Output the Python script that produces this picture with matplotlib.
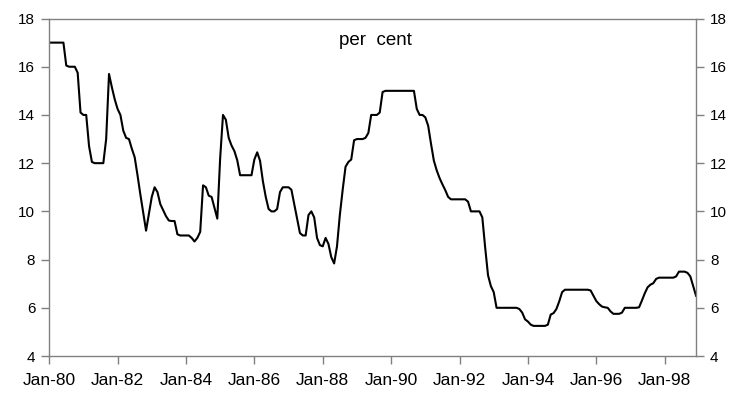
import matplotlib
matplotlib.use("Agg")
import matplotlib.pyplot as plt
import numpy as np

plt.rcParams['font.family'] = ['Liberation Sans', 'DejaVu Sans']

# monthly average rate, per cent, Jan 1980 - Dec 1998
rate = [
    17.0, 17.0, 17.0, 17.0, 17.0, 17.0, 16.05, 16.0, 16.0, 16.0, 15.75, 14.1,      # 1980
    14.0, 14.0, 12.7, 12.05, 12.0, 12.0, 12.0, 12.0, 13.0, 15.7, 15.15, 14.65,     # 1981
    14.25, 14.0, 13.35, 13.05, 13.0, 12.6, 12.25, 11.5, 10.7, 9.95, 9.2, 9.9,      # 1982
    10.6, 11.0, 10.8, 10.3, 10.05, 9.8, 9.62, 9.6, 9.6, 9.05, 9.0, 9.0,            # 1983
    9.0, 9.0, 8.9, 8.75, 8.9, 9.15, 11.08, 11.0, 10.65, 10.6, 10.15, 9.7,          # 1984
    12.2, 14.0, 13.8, 13.05, 12.73, 12.5, 12.12, 11.5, 11.5, 11.5, 11.5, 11.5,     # 1985
    12.15, 12.45, 12.1, 11.25, 10.6, 10.1, 10.0, 10.0, 10.1, 10.8, 11.0, 11.0,     # 1986
    11.0, 10.9, 10.3, 9.7, 9.1, 9.0, 9.0, 9.85, 10.0, 9.75, 8.9, 8.6,              # 1987
    8.55, 8.9, 8.65, 8.1, 7.84, 8.55, 9.85, 10.9, 11.85, 12.05, 12.15, 12.95,      # 1988
    13.0, 13.0, 13.0, 13.05, 13.25, 14.0, 14.0, 14.0, 14.1, 14.95, 15.0, 15.0,     # 1989
    15.0, 15.0, 15.0, 15.0, 15.0, 15.0, 15.0, 15.0, 15.0, 14.25, 14.0, 14.0,       # 1990
    13.9, 13.55, 12.8, 12.1, 11.7, 11.38, 11.12, 10.88, 10.6, 10.5, 10.5, 10.5,    # 1991
    10.5, 10.5, 10.5, 10.4, 10.0, 10.0, 10.0, 10.0, 9.75, 8.5, 7.35, 6.9,          # 1992
    6.65, 6.0, 6.0, 6.0, 6.0, 6.0, 6.0, 6.0, 6.0, 5.95, 5.8, 5.52,                 # 1993
    5.43, 5.3, 5.25, 5.25, 5.25, 5.25, 5.25, 5.3, 5.72, 5.78, 5.95, 6.27,          # 1994
    6.65, 6.75, 6.75, 6.75, 6.75, 6.75, 6.75, 6.75, 6.75, 6.75, 6.72, 6.5,         # 1995
    6.28, 6.15, 6.05, 6.02, 6.0, 5.85, 5.75, 5.75, 5.75, 5.8, 6.0, 6.0,            # 1996
    6.0, 6.0, 6.0, 6.02, 6.3, 6.6, 6.85, 6.96, 7.02, 7.2, 7.25, 7.25,              # 1997
    7.25, 7.25, 7.25, 7.25, 7.3, 7.5, 7.5, 7.5, 7.45, 7.3, 6.9, 6.5,               # 1998
]

tick_labels = ['Jan-80', 'Jan-82', 'Jan-84', 'Jan-86', 'Jan-88',
               'Jan-90', 'Jan-92', 'Jan-94', 'Jan-96', 'Jan-98']

x = np.arange(len(rate))

fig = plt.figure(figsize=(7.35, 3.94), dpi=100)
ax = fig.add_axes([0.0669, 0.0964, 0.8801, 0.8566])
ax.plot(x, rate, color='black', linewidth=1.5, solid_joinstyle='round')

ax.set_xlim(0, len(rate) - 1)
ax.set_ylim(4, 18)
ax.set_yticks(range(4, 19, 2))
ax.set_xticks(np.arange(0, len(rate), 24))
ax.set_xticklabels(tick_labels)

ax.tick_params(axis='both', direction='out', length=6, width=1, color='#808080',
               labelcolor='black')
ax.tick_params(axis='x', labelsize=12.5, pad=6)
ax.tick_params(axis='y', labelsize=11, pad=4, right=True, labelright=True)
for s in ax.spines.values():
    s.set_color('#808080')
    s.set_linewidth(1)

ax.text(0.505, 0.936, 'per  cent', transform=ax.transAxes, ha='center', va='center',
        fontsize=13.5)

fig.savefig('out.png', dpi=100)
